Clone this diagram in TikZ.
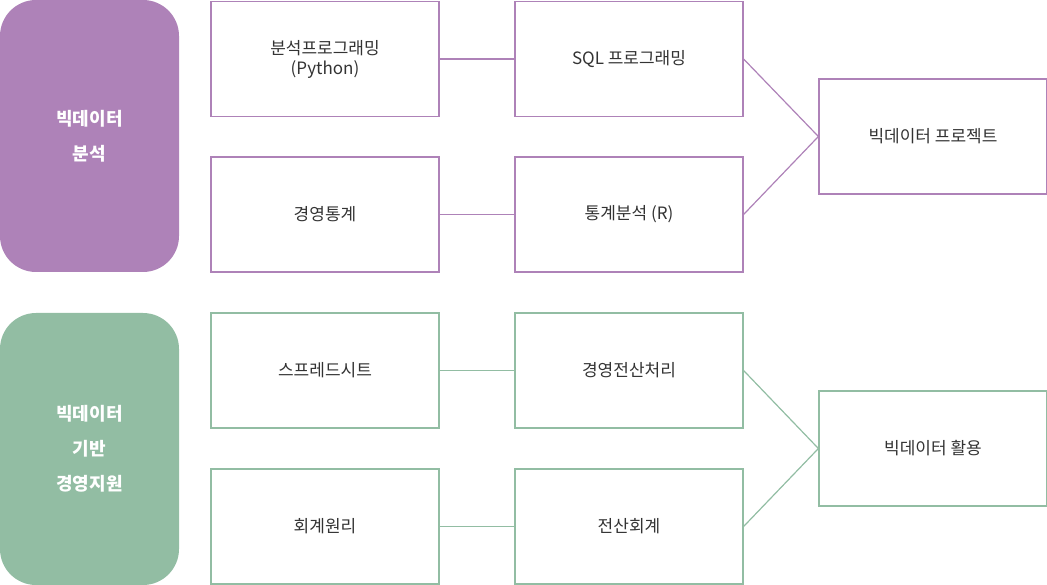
\documentclass[tikz,border=0pt]{standalone}
\usepackage{fontspec}
\setmainfont{Noto Sans CJK KR}
\definecolor{pur}{HTML}{AE82B8}
\definecolor{grn}{HTML}{92BDA3}
\begin{document}
\begin{tikzpicture}[x=1pt,y=1pt,
  bx/.style={draw=#1,line width=1.2pt,minimum width=228pt,minimum height=115pt,inner sep=0pt,font=\fontsize{17}{20}\selectfont,text=black!80,align=center},
  cat/.style={fill=#1,rounded corners=36pt,minimum width=179pt,minimum height=272pt,inner sep=0pt,text=white,font=\bfseries\fontsize{18}{35}\selectfont,align=center},
  ln/.style={draw=#1,line width=1.2pt}]
\useasboundingbox (0,0) rectangle (1047,-585);
\node[cat=pur] (c1) at (89.5,-136) {빅데이터\\분석};
\node[cat=grn] (c2) at (89.5,-449) {빅데이터\\기반\\경영지원};
\node[bx=pur] (a1) at (325,-59) {분석프로그래밍\\(Python)};
\node[bx=pur] (a2) at (629,-59) {SQL 프로그래밍};
\node[bx=pur] (a3) at (325,-214.5) {경영통계};
\node[bx=pur] (a4) at (629,-214.5) {통계분석 (R)};
\node[bx=pur] (a5) at (933,-136.5) {빅데이터 프로젝트};
\node[bx=grn] (b1) at (325,-370.5) {스프레드시트};
\node[bx=grn] (b2) at (629,-370.5) {경영전산처리};
\node[bx=grn] (b3) at (325,-526.5) {회계원리};
\node[bx=grn] (b4) at (629,-526.5) {전산회계};
\node[bx=grn] (b5) at (933,-448.5) {빅데이터 활용};
\draw[ln=pur] (a1.east)--(a2.west);
\draw[ln=pur] (a3.east)--(a4.west);
\draw[ln=pur] (a2.east)--(a5.west)--(a4.east);
\draw[ln=grn] (b1.east)--(b2.west);
\draw[ln=grn] (b3.east)--(b4.west);
\draw[ln=grn] (b2.east)--(b5.west)--(b4.east);
\end{tikzpicture}
\end{document}
